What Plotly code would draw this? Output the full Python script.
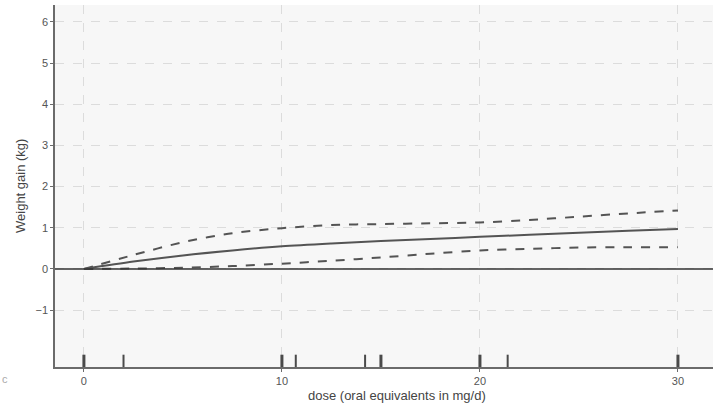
import plotly.graph_objects as go

# dose grid (mg/d)
dose = [0, 2.5, 5, 7.5, 10, 12.5, 15, 17.5, 20, 22.5, 25, 27.5, 30]
# estimated effect and confidence band (kg)
est = [0, 0.18, 0.33, 0.45, 0.55, 0.62, 0.68, 0.73, 0.78, 0.83, 0.88, 0.93, 0.97]
upper = [0, 0.34, 0.65, 0.87, 0.99, 1.07, 1.09, 1.11, 1.13, 1.19, 1.27, 1.35, 1.42]
lower = [0, 0.01, 0.03, 0.07, 0.13, 0.20, 0.28, 0.37, 0.45, 0.49, 0.52, 0.53, 0.53]

# observed doses (rug) and multiplicity
rug_x = [0, 2, 10, 10.7, 14.2, 15, 20, 21.4, 30]
rug_n = [3, 1, 3, 1, 1, 2, 3, 1, 3]

y_ticks = [-1, 0, 1, 2, 3, 4, 5, 6]
x_ticks = [0, 10, 20, 30]

line_col = "#545454"
fig = go.Figure()
fig.add_trace(go.Scatter(x=dose, y=upper, mode="lines", line_shape="spline",
                         line=dict(color=line_col, width=2, dash="dash", smoothing=0.8),
                         showlegend=False))
fig.add_trace(go.Scatter(x=dose, y=lower, mode="lines", line_shape="spline",
                         line=dict(color=line_col, width=2, dash="dash", smoothing=0.8),
                         showlegend=False))
fig.add_trace(go.Scatter(x=dose, y=est, mode="lines", line_shape="spline",
                         line=dict(color=line_col, width=2, smoothing=0.8), showlegend=False))

fig.add_hline(y=0, line=dict(color="#333333", width=1.3))

for xv, n in zip(rug_x, rug_n):
    fig.add_shape(type="line", xref="x", yref="y domain", x0=xv, x1=xv, y0=0, y1=0.034,
                  line=dict(color="#4a4a4a", width=3 if n > 1 else 2))

PW, PH = 658, 362
fig.add_annotation(text="c", xref="paper", yref="paper", x=-55 / PW, y=-4 / PH,
                   xanchor="left", yanchor="top", showarrow=False,
                   font=dict(size=11, color="#aaaaaa"))
fig.add_annotation(text="dose (oral equivalents in mg/d)", xref="paper", yref="paper",
                   x=(397 - 55) / PW, y=-19 / PH, xanchor="center", yanchor="top",
                   showarrow=False, font=dict(size=13, color="#444444"))
fig.add_annotation(text="Weight gain (kg)", xref="paper", yref="paper",
                   x=-(55 - 20) / PW, y=(367 - 186) / PH, xanchor="center", yanchor="middle",
                   textangle=-90, showarrow=False, font=dict(size=13, color="#444444"))

axis_common = dict(showgrid=True, gridcolor="#dcdcdc", griddash="dash", gridwidth=1,
                   zeroline=False, showline=True, linecolor="#6b6b6b", linewidth=1.6,
                   ticks="outside", ticklen=3, tickcolor="#6b6b6b", automargin=False,
                   tickfont=dict(size=11, color="#555555"))

fig.update_layout(
    width=713, height=408,
    margin=dict(l=55, r=0, t=5, b=41),
    paper_bgcolor="white", plot_bgcolor="#f7f7f7",
    font=dict(family="Liberation Sans, Arial, sans-serif", color="#444444"),
    xaxis=dict(range=[-1.46, 31.77], tickvals=x_ticks, **axis_common),
    yaxis=dict(range=[-2.38, 6.41], tickvals=y_ticks, **axis_common),
)

fig.write_html("out.html", config={"displayModeBar": False},
               post_script="document.body.style.margin='0';")
